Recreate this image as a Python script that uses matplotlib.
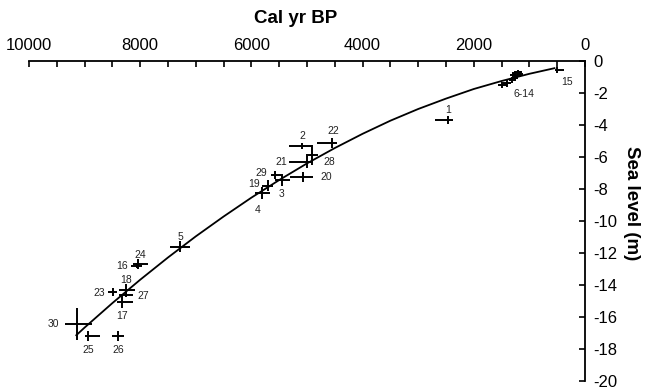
import matplotlib
matplotlib.use("Agg")
import matplotlib.pyplot as plt
from matplotlib.ticker import MultipleLocator

plt.rcParams['font.family'] = ['Liberation Sans', 'DejaVu Sans']
plt.rcParams['axes.unicode_minus'] = False

# ---- data (Cal yr BP, sea level in m) ----
point_ids = ['1', '2', '3', '4', '5', '6', '7', '8', '9', '10', '11', '12', '13', '14',
             '15', '16', '17', '18', '19', '20', '21', '22', '23', '24', '25', '26',
             '27', '28', '29', '30']
ages = [2465, 5090, 5450, 5810, 7285, 1490, 1400, 1310, 1295, 1260, 1260, 1220, 1200, 1170,
        505, 8060, 8330, 8255, 5700, 5070, 5000, 4550, 8490, 8040, 8940, 8400,
        8255, 4910, 5575, 9140]
levels = [-3.69, -5.31, -7.44, -8.25, -11.6, -1.5, -1.4, -1.2, -0.9, -0.75, -1.05, -0.95, -0.7, -0.8,
          -0.56, -12.8, -15.06, -14.3, -7.8, -7.25, -6.31, -5.13, -14.44, -12.69, -17.19, -17.19,
          -14.6, -5.88, -7.1, -16.44]
age_err_young = [90, 180, 144, 145, 180, 80, 70, 60, 60, 60, 60, 60, 60, 60,
                 130, 100, 200, 165, 90, 180, 110, 90, 70, 180, 215, 110,
                 125, 100, 110, 270]
age_err_old = [235, 234, 125, 125, 180, 80, 70, 60, 60, 60, 60, 60, 60, 60,
               40, 100, 90, 125, 110, 230, 320, 270, 90, 90, 55, 110,
               125, 110, 70, 215]
level_err = [0.25, 0.2, 0.35, 0.4, 0.35, 0.2, 0.2, 0.2, 0.15, 0.15, 0.15, 0.15, 0.15, 0.15,
             0.17, 0.15, 0.38, 0.38, 0.35, 0.3, 0.4, 0.3, 0.25, 0.3, 0.3, 0.3,
             0.15, 0.6, 0.25, 1.0]

curve_age = [550, 1000, 1500, 2000, 2500, 3000, 3500, 4000, 4500, 5000, 5500,
             6000, 6500, 7000, 7500, 8000, 8500, 9000, 9150]
curve_level = [-0.45, -0.8, -1.25, -1.75, -2.35, -3.0, -3.73, -4.55, -5.44, -6.4, -7.44,
               -8.54, -9.72, -10.96, -12.28, -13.67, -15.13, -16.66, -17.14]

x_ticks = [10000, 8000, 6000, 4000, 2000, 0]
y_ticks = [0, -2, -4, -6, -8, -10, -12, -14, -16, -18, -20]

# label text -> (index of anchor point, pixel offset)
label_style = {
    '1': (0, (0, 10)), '2': (1, (0, 10)), '3': (2, (0, -14)), '4': (3, (-4, -17)),
    '5': (4, (0, 10)), '6-14': (7, (12, -14)), '15': (14, (10, -12)),
    '16': (15, (-15, 0)), '17': (16, (0, -14)), '18': (17, (0, 10)),
    '19': (18, (-14, 2)), '20': (19, (23, 0)), '21': (20, (-26, 0)),
    '22': (21, (1, 12)), '23': (22, (-14, -1)), '24': (23, (2, 9)),
    '25': (24, (0, -14)), '26': (25, (0, -14)), '27': (26, (17, -1)),
    '28': (27, (17, -7)), '29': (28, (-14, 2)), '30': (29, (-23, 0)),
}

fig = plt.figure(figsize=(6.49, 3.90), dpi=100)
ax = fig.add_axes([0.0447, 0.0231, 0.9014 - 0.0447, 0.8436 - 0.0231])

ax.plot(curve_age, curve_level, color='black', lw=1.3, zorder=2)
ax.errorbar(ages, levels, xerr=[age_err_young, age_err_old], yerr=level_err,
            fmt='none', ecolor='black', elinewidth=1.4, capsize=0, zorder=3)

for text, (idx, off) in label_style.items():
    ax.annotate(text, (ages[idx], levels[idx]), xytext=off, textcoords='offset pixels',
                ha='center', va='center', fontsize=7.5, color='#222222')

ax.set_xlim(10000, 0)
ax.set_ylim(-20, 0)

for s in ['left', 'bottom']:
    ax.spines[s].set_visible(False)
for s in ['top', 'right']:
    ax.spines[s].set_linewidth(1.3)

ax.xaxis.set_ticks_position('top')
ax.xaxis.set_label_position('top')
ax.yaxis.set_ticks_position('right')
ax.yaxis.set_label_position('right')
ax.set_xticks(x_ticks)
ax.set_xticklabels([str(v) for v in x_ticks])
ax.xaxis.set_minor_locator(MultipleLocator(500))
ax.set_yticks(y_ticks)
ax.set_yticklabels([str(v) for v in y_ticks])

ax.tick_params(axis='x', which='both', direction='in', length=4, width=1.2, labelsize=12, pad=6)
ax.tick_params(axis='y', which='both', direction='in', length=4, width=1.2, labelsize=12, pad=6)

xl = ax.set_xlabel('Cal yr BP', fontsize=13.5, fontweight='bold')
ax.xaxis.set_label_coords(0.48, 1.12)
yl = ax.set_ylabel('Sea level (m)', fontsize=13.5, fontweight='bold', rotation=-90)
ax.yaxis.set_label_coords(1.083, 0.555)
yl.set_va('center')
yl.set_ha('center')

fig.savefig('out.png', dpi=100)
